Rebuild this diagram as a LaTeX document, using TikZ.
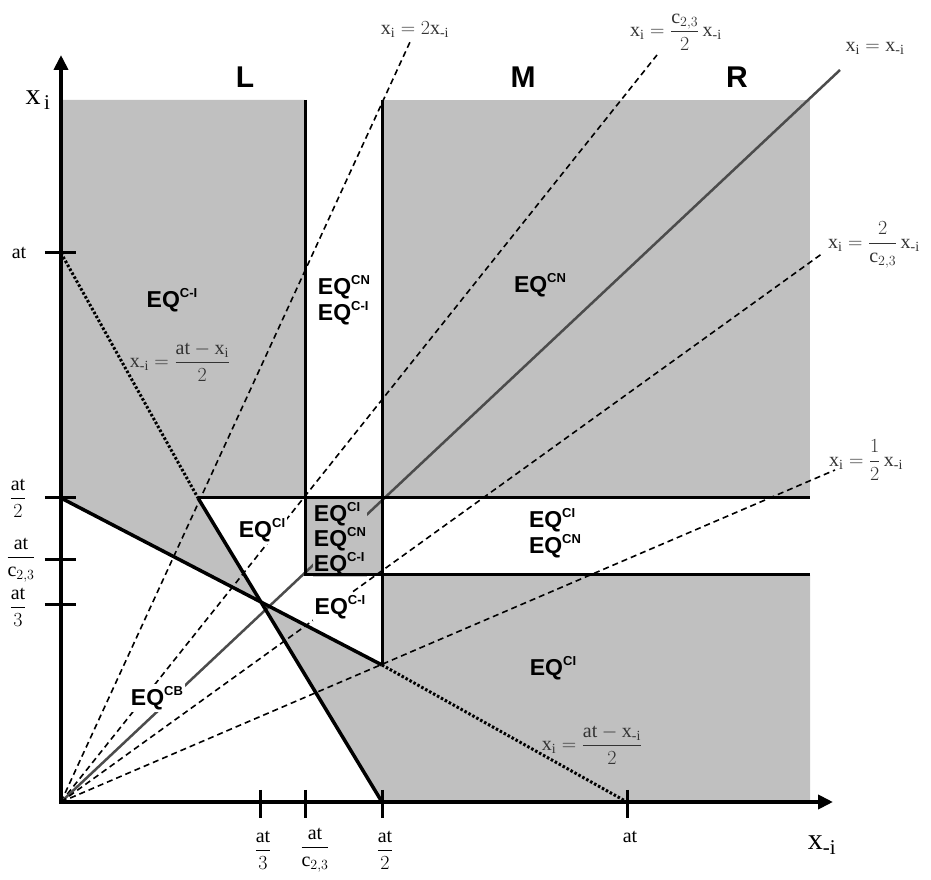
\documentclass[tikz,border=0pt]{standalone}
\usepackage{fix-cm}
\usepackage{amsmath}
\usepackage{fontspec}
\setmainfont{Liberation Serif}
\setsansfont{Liberation Sans}
\setmathrm{Liberation Serif}
\usepackage{tikz}
\usetikzlibrary{calc,arrows.meta}

\definecolor{shade}{RGB}{192,192,192}
\newcommand{\xown}{\mathrm{x}_{\mathrm{i}}}
\newcommand{\xoth}{\mathrm{x}_{\text{-i}}}
\newcommand{\ctt}{\mathrm{c}_{2,3}}
\newcommand{\eqlab}[1]{EQ\raisebox{10pt}{\fontsize{13}{13}\selectfont #1}}

\begin{document}
\begin{tikzpicture}[x=1pt, y=1pt,
  region/.style={fill=shade},
  bound/.style={line width=3pt},
  axis/.style={line width=4pt, {Triangle[length=15pt,width=14pt]}-{Triangle[length=15pt,width=14pt]}},
  tickmark/.style={line width=3pt},
  ray/.style={line width=1.6pt, dash pattern=on 6pt off 4pt},
  diag/.style={line width=2.5pt, black!70},
  best/.style={line width=3.5pt},
  bestdot/.style={line width=3pt, dash pattern=on 2.5pt off 2pt},
  eqtext/.style={font=\fontsize{23}{26}\selectfont\sffamily\bfseries,
    align=left, inner sep=2pt},
  zone/.style={font=\fontsize{30}{32}\selectfont\sffamily\bfseries},
  formula/.style={font=\fontsize{20}{22}\selectfont, black!80, inner sep=1pt},
  ticklab/.style={font=\fontsize{20}{22}\selectfont}
]
  \useasboundingbox (-61,-78) rectangle (870,802);

  % === Key points ===
  \coordinate (O) at (0,0);
  \coordinate (Ytop) at (0,747);
  \coordinate (Xend) at (772,0);
  \coordinate (Ya) at (0,549);
  \coordinate (Yh) at (0,304);
  \coordinate (Xh) at (321,0);
  \coordinate (Xa) at (566,0);
  \coordinate (P) at (137,304);
  \coordinate (K) at (321,137);
  \coordinate (Bl) at (244,227);
  \coordinate (Br) at (321,304);
  \coordinate (I) at (intersection of P--Xh and Yh--K);

  % Ray ends
  \coordinate (r1) at (349,760);
  \coordinate (r2) at (596,747);
  \coordinate (r3) at (779,732);
  \coordinate (r4) at (762,549);
  \coordinate (r5) at (774,332);

  % === Shaded regions ===
  \fill[region] (0,702) -- (244,702) -- (244,304) -- (P) -- (I) -- (Yh) -- cycle;
  \fill[region] (321,702) rectangle (749,304);
  \fill[region] (Bl) rectangle (Br);
  \fill[region] (I) -- (K) -- (321,227) -- (749,227) -- (749,0) -- (Xh) -- cycle;

  % === Rays from the origin ===
  \draw[ray] (O) -- (r1);
  \draw[ray] (O) -- (r2);
  \draw[diag] (O) -- (r3);
  \draw[ray] (O) -- (r4);
  \draw[ray] (O) -- (r5);

  % === Region labels ===
  \node[eqtext, fill=shade] (eqA) at (111,502) {\eqlab{C-I}};
  \node[eqtext, fill=white] (eqB) at (283,502) {\eqlab{CN}\\\eqlab{C-I}};
  \node[eqtext, fill=shade] (eqC) at (479,517) {\eqlab{CN}};
  \node[eqtext, fill=white] (eqD) at (201,272) {\eqlab{CI}};
  \node[eqtext, fill=shade, inner sep=1pt,
    font=\fontsize{23}{25}\selectfont\sffamily\bfseries]
    (eqE) at (279,263) {\eqlab{CI}\\\eqlab{CN}\\\eqlab{C-I}};
  \node[eqtext, fill=white] (eqF) at (279,195) {\eqlab{C-I}};
  \node[eqtext, fill=white] (eqG) at (494,269) {\eqlab{CI}\\\eqlab{CN}};
  \node[eqtext, fill=shade] (eqH) at (492,134) {\eqlab{CI}};
  \node[eqtext, fill=white] (eqI) at (96,104) {\eqlab{CB}};

  % === Boundaries ===
  \draw[bound] (244,702) -- (Bl) -- (749,227);
  \draw[bound] (321,702) -- (K);
  \draw[bound] (P) -- (749,304);

  % === Best responses ===
  \draw[bestdot] (Ya) -- (P);
  \draw[best] (P) -- (Xh);
  \draw[best] (Yh) -- (K);
  \draw[bestdot] (K) -- (Xa);

  % === Axes and ticks ===
  \draw[axis] (Ytop) -- (O) -- (Xend);
  \foreach \y in {549,304,242,197}
    \draw[tickmark] (-16,\y) -- (15,\y);
  \foreach \x in {199,244,321,566}
    \draw[tickmark] (\x,12) -- (\x,-16);

  % Tick labels
  \node[ticklab] (ya) at (-42,549) {at};
  \node[ticklab] (yh) at (-43,304) {$\dfrac{\mathrm{at}}{2}$};
  \node[ticklab] (yc) at (-40,242) {$\dfrac{\mathrm{at}}{\ctt}$};
  \node[ticklab] (yt) at (-43,195) {$\dfrac{\mathrm{at}}{3}$};
  \node[ticklab] (xt) at (202,-48) {$\dfrac{\mathrm{at}}{3}$};
  \node[ticklab] (xc) at (254,-48) {$\dfrac{\mathrm{at}}{\ctt}$};
  \node[ticklab] (xh) at (324,-48) {$\dfrac{\mathrm{at}}{2}$};
  \node[ticklab] (xa) at (569,-35) {at};

  % Axis labels
  \node[font=\fontsize{30}{32}\selectfont] (ylab) at (-23,702) {$\mathrm{x}_{\,\mathrm{i}}$};
  \node[font=\fontsize{30}{32}\selectfont] (xlab) at (761,-43) {$\mathrm{x}_{\text{-i}}$};

  % Zone labels
  \node[zone] (zL) at (184,725) {L};
  \node[zone] (zM) at (462,725) {M};
  \node[zone] (zR) at (676,725) {R};

  % Line labels
  \node[formula] (f1) at (354,772) {$\xown = 2\xoth$};
  \node[formula] (f2) at (615,770) {$\xown = \dfrac{\ctt}{2}\,\xoth$};
  \node[formula] (f3) at (814,754) {$\xown = \xoth$};
  \node[formula] (f4) at (813,557) {$\xown = \dfrac{2}{\ctt}\,\xoth$};
  \node[formula] (f5) at (805,342) {$\xown = \dfrac{1}{2}\,\xoth$};
  \node[formula] (f6) at (119,440) {$\xoth = \dfrac{\mathrm{at} - \xown}{2}$};
  \node[formula] (f7) at (531,57) {$\xown = \dfrac{\mathrm{at} - \xoth}{2}$};
\end{tikzpicture}
\end{document}
